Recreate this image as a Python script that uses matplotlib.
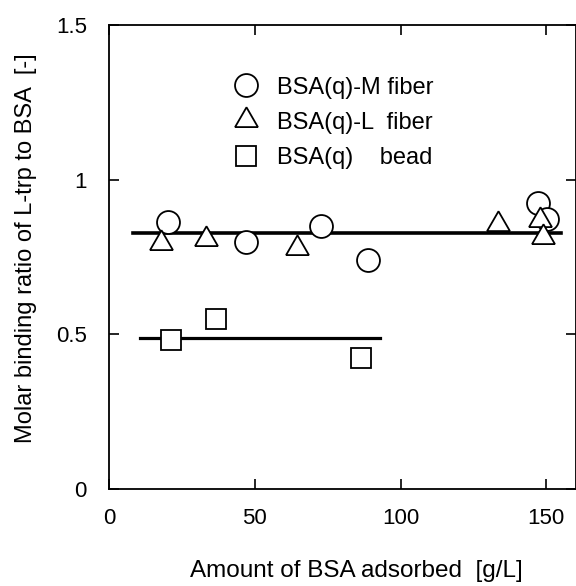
import matplotlib
matplotlib.use('Agg')
import matplotlib.pyplot as plt

plt.rcParams['font.family'] = ['Liberation Sans', 'DejaVu Sans']

# BSA(q)-M fiber (circles)
m_x = [20.4, 46.9, 72.6, 88.8, 147.2, 150.3]
m_y = [0.863, 0.798, 0.850, 0.740, 0.925, 0.873]

# BSA(q)-L fiber (triangles)
l_x = [17.9, 33.1, 64.4, 133.4, 147.8, 148.9]
l_y = [0.795, 0.807, 0.780, 0.858, 0.869, 0.815]

# BSA(q) bead (squares)
b_x = [21.3, 36.8, 86.4]
b_y = [0.481, 0.549, 0.423]

# mean lines
fiber_line_x = [8.1, 154.9]
fiber_line_y = [0.829, 0.829]
bead_line_x = [10.8, 93.1]
bead_line_y = [0.488, 0.488]

xticks = [0, 50, 100, 150]
yticks = [0, 0.5, 1, 1.5]
ytick_labels = ['0', '0.5', '1', '1.5']

fig = plt.figure(figsize=(5.76, 5.86), dpi=100)
ax = fig.add_axes([109/576, 1 - 489/586, 466.5/576, 464/586])

ax.plot(fiber_line_x, fiber_line_y, color='black', lw=2.6, zorder=1)
ax.plot(bead_line_x, bead_line_y, color='black', lw=2.3, zorder=1)

ax.plot(m_x, m_y, ls='none', marker='o', ms=16.5, mfc='white', mec='black',
        mew=1.3, label='BSA(q)-M fiber', zorder=3)
ax.plot(l_x, l_y, ls='none', marker=(3, 0, 0), ms=19, mfc='white', mec='black',
        mew=1.3, label='BSA(q)-L  fiber', zorder=3)
ax.plot(b_x, b_y, ls='none', marker='s', ms=15, mfc='white', mec='black',
        mew=1.3, label='BSA(q)    bead', zorder=3)

ax.set_xlim(0, 160)
ax.set_ylim(0, 1.5)
ax.set_xticks(xticks)
ax.set_yticks(yticks)
ax.set_yticklabels(ytick_labels)
ax.tick_params(direction='in', length=7, width=1.2, top=True, right=True,
               labelsize=16)
ax.tick_params(axis='x', pad=14)
ax.tick_params(axis='y', pad=16)
for s in ax.spines.values():
    s.set_linewidth(1.3)

ax.set_xlabel('Amount of BSA adsorbed  [g/L]', fontsize=17.5, labelpad=22, x=0.53)
ax.set_ylabel('Molar binding ratio of L-trp to BSA  [-]', fontsize=17,
              labelpad=13.5, y=0.52)

ax.legend(loc='upper left', bbox_to_anchor=(0.269, 0.889), frameon=False,
          fontsize=17, handlelength=1.0, handletextpad=0.81, labelspacing=0.56,
          borderpad=0, borderaxespad=0)

fig.savefig('out.png', dpi=100)
